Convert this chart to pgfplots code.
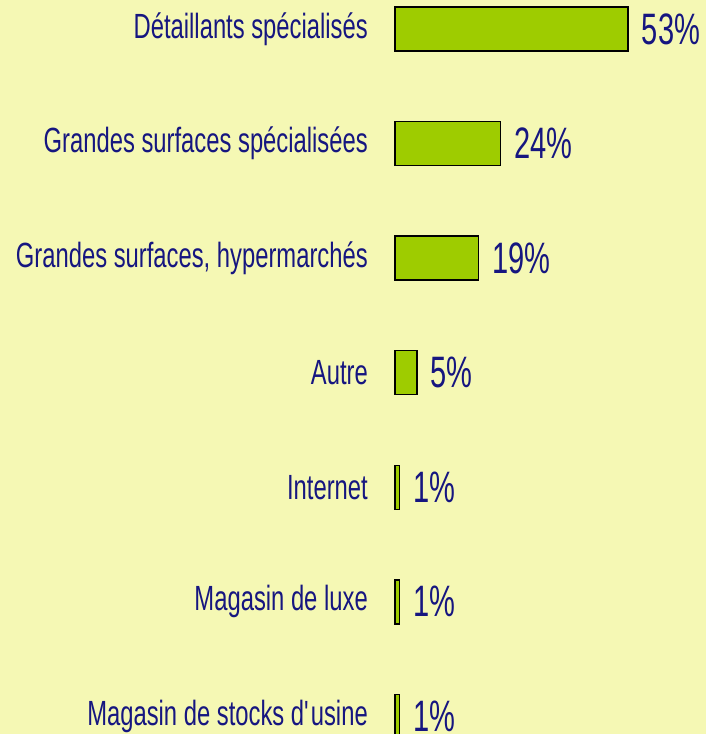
\documentclass[border=0pt]{standalone}
\usepackage{fontspec}
\setmainfont{Liberation Sans}[FakeStretch=0.68]
\newfontfamily\valfont{Liberation Sans}[FakeStretch=0.66]
\usepackage{pgfplots}
\pgfplotsset{compat=1.18}

\definecolor{bg}{RGB}{245,248,180}
\definecolor{bargreen}{RGB}{158,204,0}
\definecolor{navy}{RGB}{22,22,128}

\begin{document}
\begin{tikzpicture}
\useasboundingbox (0,0) rectangle (706pt,-734pt);
\clip (0,0) rectangle (706pt,-734pt);
\fill[bg] (0,0) rectangle (706pt,-734pt);
\begin{axis}[
    at={(395pt,28.3pt)}, anchor=north west,
    scale only axis,
    width=308pt, height=802pt,
    xbar, bar width=44pt,
    xmin=0, xmax=70,
    ymin=-0.5, ymax=6.5,
    y dir=reverse,
    axis line style={draw=none},
    tick style={draw=none},
    major tick length=0pt,
    xtick=\empty,
    ytick={0,1,2,3,4,5,6},
    yticklabels={D\'etaillants sp\'ecialis\'es,
      Grandes surfaces sp\'ecialis\'ees,
      {Grandes surfaces, hypermarch\'es},
      Autre, Internet, Magasin de luxe,
      Magasin de stocks d\textquotesingle usine},
    yticklabel style={font=\fontsize{35}{40}\selectfont, text=navy,
      anchor=east, inner sep=0pt, xshift=-27pt},
    clip=false,
    /pgf/number format/assume math mode=true,
    nodes near coords={\pgfmathprintnumber{\pgfplotspointmeta}\%},
    nodes near coords style={font=\valfont\fontsize{44}{50}\selectfont,
      text=navy, anchor=west, inner sep=0pt, xshift=13pt},
    point meta=x,
]
\addplot[draw=black, line width=1.5pt, fill=bargreen] coordinates {
    (53,0) (24,1) (19,2) (5,3) (1,4) (1,5) (1,6)
};
\end{axis}
\end{tikzpicture}
\end{document}
